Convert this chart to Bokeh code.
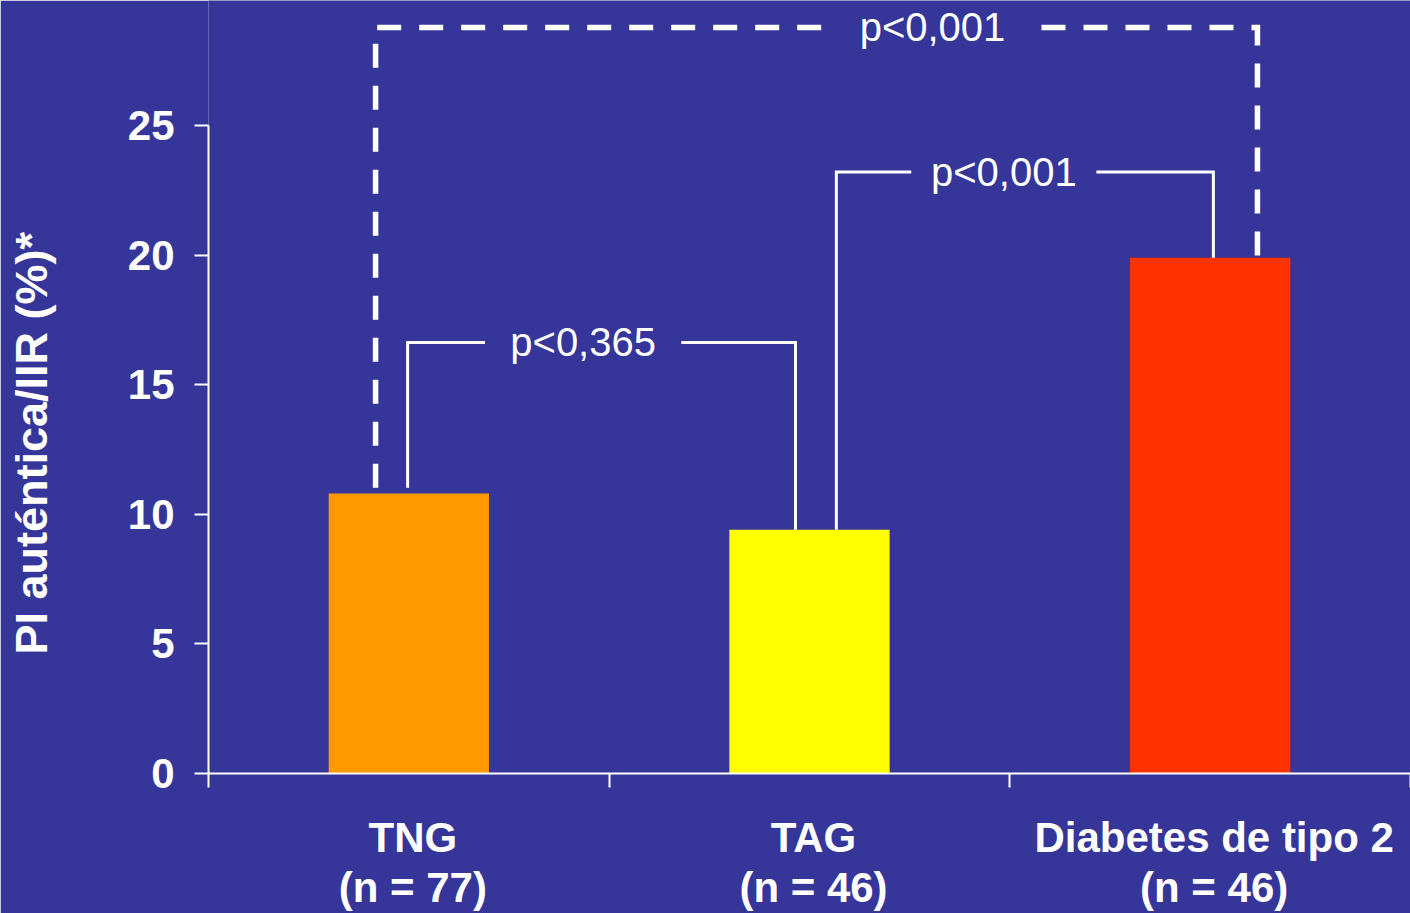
from bokeh.plotting import figure
from bokeh.models import FixedTicker, Range1d, Title
from bokeh.embed import file_html
from bokeh.resources import INLINE
from bokeh.core.properties import value

# ---- data ----
categories = ["TNG", "TAG", "Diabetes de tipo 2"]
group_sizes = [77, 46, 46]
values = [10.8, 9.4, 19.9]
y_ticks = [0, 5, 10, 15, 20, 25]
comparisons = [(0, 1), (1, 2), (0, 2)]
p_labels = ["p<0,365", "p<0,001", "p<0,001"]
y_title = "PI auténtica/IIR (%)*"

# ---- styling / layout ----
BG = "#35359A"
bar_colors = ["#FF9900", "#FFFF00", "#FF3300"]
FONT = "Liberation Sans"
x_pos = [i + 0.5 for i in range(len(categories))]
label_shift = 0.01

bracket_y = [16.63, 23.2, 28.78]
bracket_left_x = [0.497, 1.567, 0.417]
bracket_right_x = [1.465, 2.508, 2.618]
bracket_left_gap = [0.22, 0.0, 0.22]
label_x = [0.935, 1.985, 1.807]
gap_half = [0.245, 0.231, 0.272]
bracket_dash = ["solid", "solid", "24 18"]
bracket_width = [3, 3, 5.5]

p = figure(width=1410, height=913,
           x_range=Range1d(0, 3), y_range=Range1d(0, 29.82),
           output_backend="svg", toolbar_location=None,
           min_border_left=208, min_border_right=0, min_border_top=0,
           min_border_bottom=139,
           background_fill_color=BG, border_fill_color=BG,
           outline_line_color=None)

p.xgrid.visible = False
p.ygrid.visible = False

p.vbar(x=x_pos, top=values, width=0.4, color=bar_colors, line_color=None)

# brackets
for k, (a, b) in enumerate(comparisons):
    y = bracket_y[k]
    lx, rx = bracket_left_x[k], bracket_right_x[k]
    lb = values[a] + bracket_left_gap[k]
    rb = values[b]
    cx, gh = label_x[k], gap_half[k]
    for xs, ys in (([lx, lx, cx - gh], [lb, y, y]), ([cx + gh, rx, rx], [y, y, rb])):
        p.line(xs, ys, line_color="white", line_width=bracket_width[k],
               line_dash=bracket_dash[k], line_join="miter")

p.text(x=label_x, y=bracket_y, text=p_labels, text_font=value(FONT),
       text_font_size="40px", text_color="white", text_align="center",
       text_baseline="middle")

# x axis
tick_pos = [x + label_shift for x in x_pos]
xa = p.xaxis[0]
xa.ticker = FixedTicker(ticks=tick_pos, minor_ticks=[0, 1, 2, 3])
xa.major_label_overrides = {tick_pos[i]: f"{categories[i]}\n(n = {group_sizes[i]})"
                            for i in range(len(categories))}
xa.major_tick_line_color = None
xa.minor_tick_out = 14
xa.minor_tick_in = 0
xa.minor_tick_line_color = "white"
xa.minor_tick_line_width = 2
xa.axis_line_color = "white"
xa.axis_line_width = 2
xa.major_label_text_color = "white"
xa.major_label_text_font = FONT
xa.major_label_text_font_style = "bold"
xa.major_label_text_font_size = "42px"
xa.major_label_text_line_height = 1.07
xa.major_label_standoff = 26
xa.major_label_orientation = "horizontal"

# y axis
ya = p.yaxis[0]
ya.ticker = FixedTicker(ticks=y_ticks, minor_ticks=[])
ya.bounds = (0, 25)
ya.major_tick_out = 14
ya.major_tick_in = 0
ya.major_tick_line_color = "white"
ya.major_tick_line_width = 2
ya.axis_line_color = "white"
ya.axis_line_width = 2
ya.major_label_text_color = "white"
ya.major_label_text_font = FONT
ya.major_label_text_font_style = "bold"
ya.major_label_text_font_size = "42px"
ya.major_label_standoff = 20
# invisible spacer label to push the title outward
ya.axis_label = " "
ya.axis_label_text_font_size = "1px"
ya.axis_label_standoff = 57

p.add_layout(Title(text=y_title, align="left", offset=119, vertical_align="top",
                   text_color="white", text_font=FONT, text_font_style="bold",
                   text_font_size="45px"), "left")

open("out.html", "w").write(file_html(p, INLINE))
